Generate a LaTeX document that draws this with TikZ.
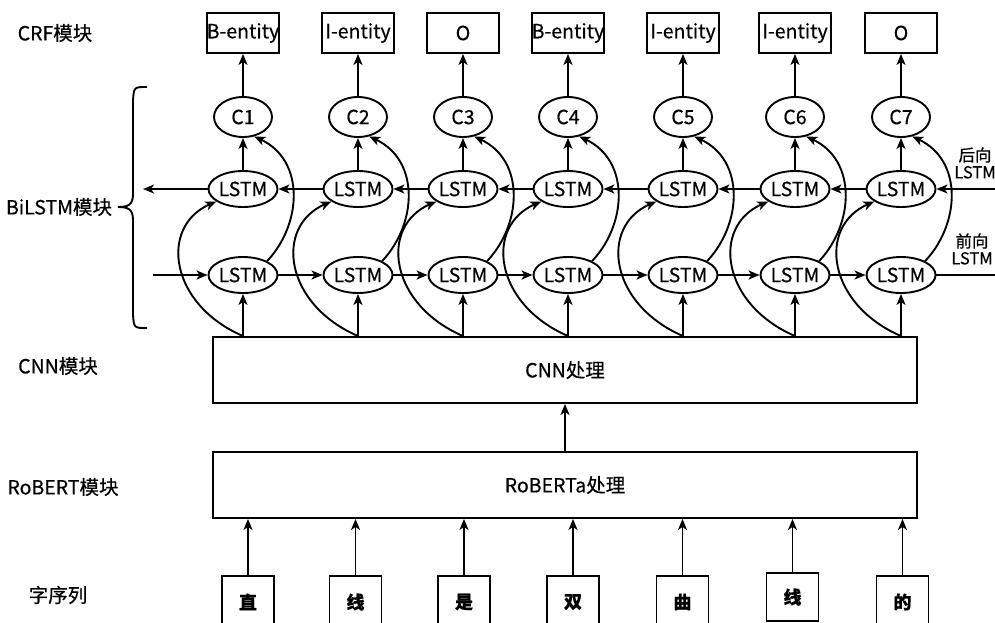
\documentclass[tikz,border=0pt]{standalone}
\usepackage{fontspec}
\setmainfont{Noto Sans CJK SC}[FakeBold=0.5]
\usetikzlibrary{arrows.meta,shapes.geometric}
\begin{document}
\begin{tikzpicture}[x=1pt,y=-1pt,
  line width=1.9pt,
  font=\fontsize{19.5}{22}\selectfont,
  arr/.style={-{Stealth[length=11pt,width=9pt,inset=3pt]}},
  tag/.style={draw,rectangle,minimum width=72pt,minimum height=40pt,inner sep=0pt},
  cell/.style={draw,ellipse,minimum width=58pt,minimum height=40pt,inner sep=0pt},
  lstm/.style={draw,ellipse,minimum width=61pt,minimum height=36pt,inner sep=0pt},
  chbox/.style={draw,rectangle,minimum width=52pt,minimum height=52pt,inner sep=0pt,font=\fontsize{18}{20}\selectfont\bfseries},
  bigbox/.style={draw,rectangle,minimum width=704pt,minimum height=66pt,inner sep=0pt},
  lab/.style={inner sep=0pt},
  side/.style={inner sep=0pt,align=center,font=\fontsize{16.5}{17}\selectfont}
]
\useasboundingbox (0,0) rectangle (995,622);

% left labels
\node[lab] (l1) at (55,33) {CRF模块};
\node[lab] (l2) at (59,207) {BiLSTM模块};
\node[lab] (l3) at (58,366) {CNN模块};
\node[lab] (l4) at (63,487) {RoBERT模块};
\node[lab] (l5) at (58,595) {字序列};

% brace
\draw (147,87) .. controls (134,87) .. (133,100) -- (133,194)
  .. controls (133,205) and (128,207) .. (118,207)
  .. controls (128,207) and (133,209) .. (133,220) -- (133,315)
  .. controls (134,328) .. (147,328);

% columns
\foreach \i/\x/\t in {1/243/B-entity,2/358/I-entity,3/463/O,4/568/B-entity,5/683/I-entity,6/795/I-entity,7/901/O}{
  \node[tag] (t\i) at (\x,33) {\t};
  \node[cell] (c\i) at (\x,117) {C\i};
  \node[lstm] (u\i) at (\x,189) {LSTM};
  \node[lstm] (d\i) at (\x,275) {LSTM};
}

% big boxes
\node[bigbox] (cnn) at (565,370) {CNN处理};
\node[bigbox] (rob) at (565,485) {RoBERTa处理};

% characters
\node[chbox] (w1) at (248,602) {直};
\node[chbox] (w2) at (355.5,602) {线};
\node[chbox] (w3) at (464,602) {是};
\node[chbox] (w4) at (573,602) {双};
\node[chbox] (w5) at (682.5,602) {曲};
\node[chbox,minimum height=48pt] (w6) at (792.5,597) {线};
\node[chbox] (w7) at (902.5,602) {的};

% side labels
\node[side] (bk) at (975,163) {后向\\LSTM};
\node[side] (fw) at (972,249) {前向\\LSTM};

% free ends
\coordinate (bl) at (143,189);
\coordinate (br) at (1000,189);
\coordinate (fl) at (153,275);
\coordinate (fr) at (1000,275);

% vertical and curved connectors
\foreach \i in {1,...,7}{
  \draw[arr] (c\i) -- (t\i);
  \draw[arr] (u\i) -- (c\i);
  \draw[arr] (d\i |- cnn.north) -- (d\i);
  \draw[arr] (d\i |- cnn.north) .. controls +(-74,-32) and +(-57,25) .. (u\i.205);
  \draw[arr] (d\i.30) .. controls +(35,-37) and +(51,24) .. (c\i.300);
  \draw[arr] (w\i) -- (w\i |- rob.south);
}

% horizontal chains
\draw[arr] (br) -- (u7);
\foreach \a/\b in {1/2,2/3,3/4,4/5,5/6,6/7}{
  \draw[arr] (u\b) -- (u\a);
  \draw[arr] (d\a) -- (d\b);
}
\draw[arr] (u1) -- (bl);
\draw[arr] (fl) -- (d1);
\draw (d7) -- (fr);

% RoBERTa to CNN
\draw[arr] (rob) -- (cnn);
\end{tikzpicture}
\end{document}
